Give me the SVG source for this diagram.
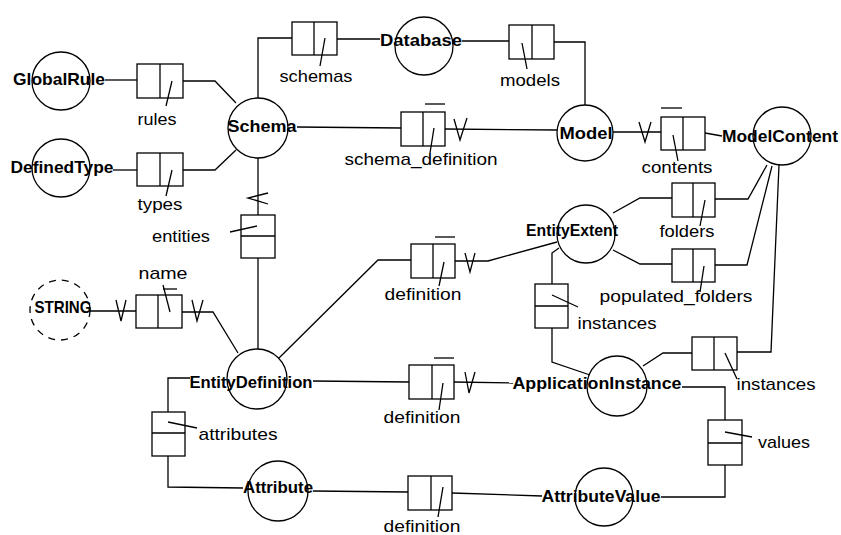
<svg xmlns="http://www.w3.org/2000/svg" width="841" height="535" viewBox="0 0 841 535">
<style>
.c{fill:none;stroke:#000;stroke-width:1.3}
.d{fill:none;stroke:#000;stroke-width:1.3;stroke-dasharray:7 6}
.l{fill:none;stroke:#000;stroke-width:1.3}
.b{fill:#fff;stroke:#000;stroke-width:1.3}
.n{font-family:"Liberation Sans",Arial,sans-serif;font-weight:bold;font-size:17px;text-anchor:middle;fill:#000}
.t{font-family:"Liberation Sans",Arial,sans-serif;font-size:17px;text-anchor:middle;fill:#000}
</style>
<rect width="841" height="535" fill="#fff"/>
<g id="connectors">
<polyline class="l" points="105,80 137,80"/>
<polyline class="l" points="113,170 137,170"/>
<polyline class="l" points="183,81 215,81 236,103"/>
<polyline class="l" points="183,170 215,170 236,150"/>
<polyline class="l" points="258,98 258,38 292,38"/>
<polyline class="l" points="337,39 380,39"/>
<polyline class="l" points="462,41 509,41"/>
<polyline class="l" points="554,42 585,42 585,105"/>
<polyline class="l" points="297,127 401,128"/>
<polyline class="l" points="445,129 557,130"/>
<polyline class="l" points="613,132 661,132"/>
<polyline class="l" points="705,133 722,136"/>
<polyline class="l" points="258,158 258,215"/>
<polyline class="l" points="258,258 258,349"/>
<polyline class="l" points="90,311 136,311"/>
<polyline class="l" points="182,312 213,312 238,353"/>
<polyline class="l" points="279,358 378,260 411,260"/>
<polyline class="l" points="455,261 488,261 557,242"/>
<polyline class="l" points="613,213 640,198 672,198"/>
<polyline class="l" points="613,250 640,264 672,264"/>
<polyline class="l" points="715,199 748,199 767,165"/>
<polyline class="l" points="715,265 747,265 772,166"/>
<polyline class="l" points="779,165 771,352 737,352"/>
<polyline class="l" points="692,353 663,353 643,366"/>
<polyline class="l" points="559,248 552,253 552,284"/>
<polyline class="l" points="552,328 552,362 590,375"/>
<polyline class="l" points="313,381 409,382"/>
<polyline class="l" points="454,382 513,383"/>
<polyline class="l" points="682,387 725,387 725,420"/>
<polyline class="l" points="725,465 725,497 661,497"/>
<polyline class="l" points="190,378 168,378 168,412"/>
<polyline class="l" points="168,456 168,487 243,488"/>
<polyline class="l" points="313,491 408,492"/>
<polyline class="l" points="452,493 542,496"/>
</g>
<g id="GlobalRule"><circle class="c" cx="61" cy="81" r="29"/><text class="n" x="59" y="85" textLength="92" lengthAdjust="spacingAndGlyphs">GlobalRule</text></g>
<g id="DefinedType"><circle class="c" cx="61" cy="168" r="29"/><text class="n" x="62" y="173" textLength="103" lengthAdjust="spacingAndGlyphs">DefinedType</text></g>
<g id="Schema"><circle class="c" cx="258" cy="128" r="30"/><text class="n" x="262" y="132" textLength="69" lengthAdjust="spacingAndGlyphs">Schema</text></g>
<g id="Database"><circle class="c" cx="424" cy="46" r="29"/><text class="n" x="421" y="46" textLength="82" lengthAdjust="spacingAndGlyphs">Database</text></g>
<g id="Model"><circle class="c" cx="585" cy="133" r="28"/><text class="n" x="586" y="139" textLength="53" lengthAdjust="spacingAndGlyphs">Model</text></g>
<g id="ModelContent"><circle class="c" cx="782" cy="136" r="29"/><text class="n" x="780" y="142" textLength="116" lengthAdjust="spacingAndGlyphs">ModelContent</text></g>
<g id="EntityExtent"><circle class="c" cx="586" cy="234" r="29"/><text class="n" x="572" y="236" textLength="92" lengthAdjust="spacingAndGlyphs">EntityExtent</text></g>
<g id="STRING"><circle class="d" cx="60" cy="310" r="30"/><text class="n" x="63" y="313" textLength="57" lengthAdjust="spacingAndGlyphs">STRING</text></g>
<g id="EntityDefinition"><circle class="c" cx="257" cy="379" r="30"/><text class="n" x="251" y="388" textLength="123" lengthAdjust="spacingAndGlyphs">EntityDefinition</text></g>
<g id="ApplicationInstance"><circle class="c" cx="617" cy="386" r="30"/><text class="n" x="597" y="389" textLength="169" lengthAdjust="spacingAndGlyphs">ApplicationInstance</text></g>
<g id="Attribute"><circle class="c" cx="278" cy="491" r="30"/><text class="n" x="278" y="493" textLength="70" lengthAdjust="spacingAndGlyphs">Attribute</text></g>
<g id="AttributeValue"><circle class="c" cx="604" cy="497" r="29"/><text class="n" x="601" y="502" textLength="119" lengthAdjust="spacingAndGlyphs">AttributeValue</text></g>

<g id="rel-rules"><rect class="b" x="137" y="64" width="46" height="34"/><line class="l" x1="160" y1="64" x2="160" y2="98"/><line class="l" x1="172" y1="81" x2="166" y2="106"/><text class="t" x="157" y="125" textLength="39" lengthAdjust="spacingAndGlyphs">rules</text></g>
<g id="rel-types"><rect class="b" x="137" y="153" width="46" height="33"/><line class="l" x1="160" y1="153" x2="160" y2="186"/><line class="l" x1="172" y1="170" x2="166" y2="196"/><text class="t" x="160" y="210" textLength="45" lengthAdjust="spacingAndGlyphs">types</text></g>
<g id="rel-schemas"><rect class="b" x="292" y="22" width="45" height="33"/><line class="l" x1="314" y1="22" x2="314" y2="55"/><line class="l" x1="325" y1="38" x2="320" y2="66"/><text class="t" x="316" y="82" textLength="73" lengthAdjust="spacingAndGlyphs">schemas</text></g>
<g id="rel-models"><rect class="b" x="509" y="25" width="45" height="34"/><line class="l" x1="532" y1="25" x2="532" y2="59"/><line class="l" x1="522" y1="43" x2="527" y2="69"/><text class="t" x="530" y="86" textLength="60" lengthAdjust="spacingAndGlyphs">models</text></g>
<g id="rel-schema_definition"><rect class="b" x="401" y="112" width="44" height="34"/><line class="l" x1="423" y1="112" x2="423" y2="146"/><line class="l" x1="425" y1="104" x2="445" y2="104"/><polyline class="l" points="454,119 460,140 467,118"/><line class="l" x1="434" y1="128" x2="430" y2="153"/><text class="t" x="421" y="165" textLength="153" lengthAdjust="spacingAndGlyphs">schema_definition</text></g>
<g id="rel-contents"><rect class="b" x="661" y="117" width="44" height="33"/><line class="l" x1="683" y1="117" x2="683" y2="150"/><line class="l" x1="661" y1="108" x2="682" y2="108"/><polyline class="l" points="639,122 645,142 651,122"/><line class="l" x1="673" y1="135" x2="678" y2="161"/><text class="t" x="677" y="173" textLength="71" lengthAdjust="spacingAndGlyphs">contents</text></g>
<g id="rel-folders"><rect class="b" x="672" y="183" width="43" height="34"/><line class="l" x1="693" y1="183" x2="693" y2="217"/><line class="l" x1="705" y1="200" x2="700" y2="226"/><text class="t" x="687" y="237" textLength="55" lengthAdjust="spacingAndGlyphs">folders</text></g>
<g id="rel-populated_folders"><rect class="b" x="672" y="249" width="43" height="33"/><line class="l" x1="693" y1="249" x2="693" y2="282"/><line class="l" x1="704" y1="266" x2="700" y2="292"/><text class="t" x="676" y="302" textLength="153" lengthAdjust="spacingAndGlyphs">populated_folders</text></g>
<g id="rel-name"><rect class="b" x="136" y="295" width="46" height="33"/><line class="l" x1="158" y1="295" x2="158" y2="328"/><line class="l" x1="163" y1="289" x2="177" y2="289"/><line class="l" x1="163" y1="285" x2="170" y2="312"/><polyline class="l" points="116,300 121,321 126,300"/><polyline class="l" points="192,300 197,321 203,300"/><text class="t" x="163" y="279" textLength="49" lengthAdjust="spacingAndGlyphs">name</text></g>
<g id="rel-entities"><rect class="b" x="241" y="215" width="34" height="43"/><line class="l" x1="241" y1="236" x2="275" y2="236"/><polyline class="l" points="268,193 248,198 268,204"/><line class="l" x1="230" y1="232" x2="257" y2="226"/><text class="t" x="181" y="242" textLength="58" lengthAdjust="spacingAndGlyphs">entities</text></g>
<g id="rel-definition-extent"><rect class="b" x="411" y="244" width="44" height="34"/><line class="l" x1="433" y1="244" x2="433" y2="278"/><line class="l" x1="435" y1="237" x2="455" y2="237"/><polyline class="l" points="465,253 470,272 475,253"/><line class="l" x1="444" y1="262" x2="439" y2="286"/><text class="t" x="423" y="300" textLength="77" lengthAdjust="spacingAndGlyphs">definition</text></g>
<g id="rel-instances-extent"><rect class="b" x="535" y="284" width="33" height="44"/><line class="l" x1="535" y1="306" x2="568" y2="306"/><line class="l" x1="552" y1="295" x2="578" y2="307"/><text class="t" x="617" y="329" textLength="79" lengthAdjust="spacingAndGlyphs">instances</text></g>
<g id="rel-instances-content"><rect class="b" x="692" y="337" width="45" height="33"/><line class="l" x1="714" y1="337" x2="714" y2="370"/><line class="l" x1="725" y1="353" x2="737" y2="379"/><text class="t" x="776" y="390" textLength="79" lengthAdjust="spacingAndGlyphs">instances</text></g>
<g id="rel-definition-instance"><rect class="b" x="409" y="365" width="45" height="34"/><line class="l" x1="432" y1="365" x2="432" y2="399"/><line class="l" x1="434" y1="358" x2="454" y2="358"/><polyline class="l" points="465,372 469,393 475,372"/><line class="l" x1="443" y1="383" x2="439" y2="410"/><text class="t" x="422" y="423" textLength="77" lengthAdjust="spacingAndGlyphs">definition</text></g>
<g id="rel-values"><rect class="b" x="708" y="420" width="34" height="45"/><line class="l" x1="708" y1="443" x2="742" y2="443"/><line class="l" x1="725" y1="432" x2="752" y2="437"/><text class="t" x="784" y="448" textLength="52" lengthAdjust="spacingAndGlyphs">values</text></g>
<g id="rel-attributes"><rect class="b" x="152" y="412" width="33" height="44"/><line class="l" x1="152" y1="433" x2="185" y2="433"/><line class="l" x1="168" y1="422" x2="197" y2="428"/><text class="t" x="238" y="440" textLength="79" lengthAdjust="spacingAndGlyphs">attributes</text></g>
<g id="rel-definition-value"><rect class="b" x="408" y="476" width="44" height="34"/><line class="l" x1="431" y1="476" x2="431" y2="510"/><line class="l" x1="443" y1="487" x2="438" y2="517"/><text class="t" x="422" y="532" textLength="77" lengthAdjust="spacingAndGlyphs">definition</text></g>
</svg>
